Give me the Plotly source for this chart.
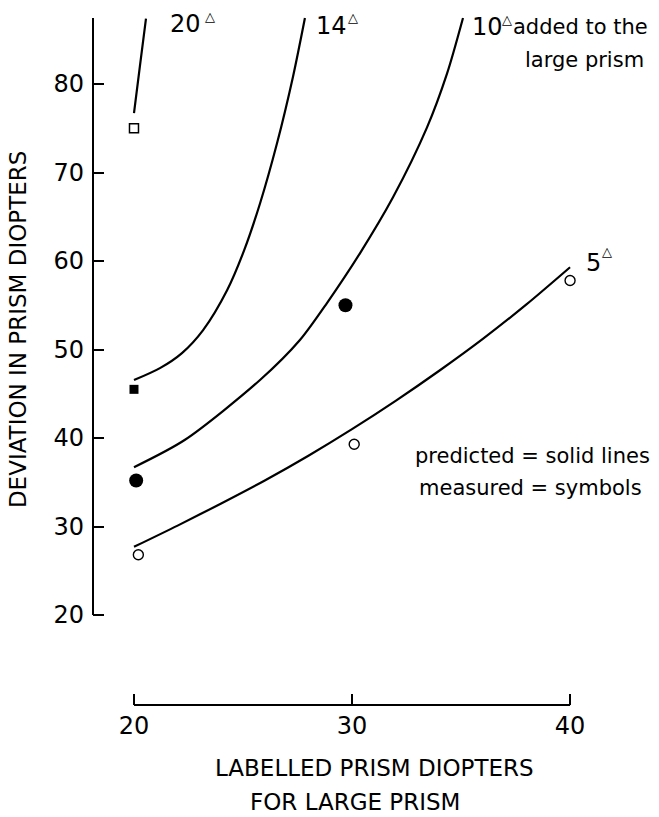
import plotly.graph_objects as go

# ---- data ----
# predicted curves (solid lines): labelled prism (x) vs deviation (y)
x_20 = [20.0, 20.27, 20.55]
y_20 = [76.7, 82.0, 87.4]

x_14 = [20.0, 21.19, 22.2, 23.17, 24.27, 25.05, 25.78, 26.56, 27.29, 27.84]
y_14 = [46.55, 47.9, 49.6, 52.2, 56.7, 61.2, 66.5, 73.3, 80.8, 87.46]

x_10 = [20.0, 22.34, 25.78, 27.61, 28.85, 30.37, 31.88, 33.44, 34.36, 35.09]
y_10 = [36.7, 39.8, 46.55, 51.07, 55.25, 60.9, 67.2, 75.1, 81.2, 87.46]

x_5 = [20.0, 22.0, 24.0, 26.0, 28.0, 30.0, 32.0, 34.0, 36.0, 38.0, 40.0]
y_5 = [27.7, 30.1, 32.6, 35.2, 38.0, 41.0, 44.2, 47.6, 51.2, 55.1, 59.3]

# measured values (symbols)
meas_20_x = [20.0]
meas_20_y = [75.0]
meas_14_x = [20.0]
meas_14_y = [45.5]
meas_10_x = [20.1, 29.7]
meas_10_y = [35.2, 55.0]
meas_5_x = [20.2, 30.1, 40.0]
meas_5_y = [26.8, 39.3, 57.8]

x_ticks = [20, 30, 40]
y_ticks = [20, 30, 40, 50, 60, 70, 80]

FONT = "DejaVu Sans"
BLACK = "#000000"

fig = go.Figure()

line_style = dict(color=BLACK, width=2.2, shape="spline", smoothing=0.8)
for xs, ys in [(x_20, y_20), (x_14, y_14), (x_10, y_10), (x_5, y_5)]:
    fig.add_trace(go.Scatter(x=xs, y=ys, mode="lines", line=line_style,
                             showlegend=False, hoverinfo="skip"))

fig.add_trace(go.Scatter(x=meas_20_x, y=meas_20_y, mode="markers",
                         marker=dict(symbol="square-open", size=9, color=BLACK,
                                     line=dict(width=1.5, color=BLACK)),
                         showlegend=False))
fig.add_trace(go.Scatter(x=meas_14_x, y=meas_14_y, mode="markers",
                         marker=dict(symbol="square", size=9, color=BLACK),
                         showlegend=False))
fig.add_trace(go.Scatter(x=meas_10_x, y=meas_10_y, mode="markers",
                         marker=dict(symbol="circle", size=14, color=BLACK),
                         showlegend=False))
fig.add_trace(go.Scatter(x=meas_5_x, y=meas_5_y, mode="markers",
                         marker=dict(symbol="circle-open", size=10, color=BLACK,
                                     line=dict(width=1.4, color=BLACK)),
                         showlegend=False))

# detached axis lines
fig.add_shape(type="line", xref="paper", yref="y", x0=0, x1=0, y0=20, y1=87.46,
              line=dict(color=BLACK, width=2))
fig.add_shape(type="line", xref="x", yref="paper", x0=20, x1=40, y0=0, y1=0,
              line=dict(color=BLACK, width=2))

ann = []
def text(x, y, s, size, xanchor="left", xref="x", yref="y"):
    ann.append(dict(x=x, y=y, xref=xref, yref=yref, text=s, showarrow=False,
                    xanchor=xanchor, yanchor="middle",
                    font=dict(family=FONT, size=size, color=BLACK)))

text(21.56, 86.78, "20", 24)
text(23.17, 87.68, "△", 13)
text(28.26, 86.6, "14", 24)
text(29.72, 87.57, "△", 13)
text(35.41, 86.5, "10", 24)
text(36.79, 87.3, "△", 13)
text(37.29, 86.44, "added to the", 21)
text(37.84, 82.7, "large prism", 21)
text(40.64, 59.77, "5", 24)
text(41.38, 61.13, "△", 13)
text(38.26, 37.97, "predicted = solid lines", 21, xanchor="center")
text(38.17, 34.35, "measured = symbols", 21, xanchor="center")

text(0.501, -0.09, "LABELLED PRISM DIOPTERS", 23, xanchor="center", xref="paper", yref="paper")
text(0.467, -0.1386, "FOR LARGE PRISM", 23, xanchor="center", xref="paper", yref="paper")
ann.append(dict(x=-0.1337, y=0.537, xref="paper", yref="paper",
                text="DEVIATION IN PRISM DIOPTERS", showarrow=False, textangle=-90,
                xanchor="center", yanchor="middle",
                font=dict(family=FONT, size=23, color=BLACK)))

fig.update_layout(
    width=659, height=817,
    margin=dict(l=93, r=5, t=5, b=112),
    paper_bgcolor="white", plot_bgcolor="white",
    annotations=ann,
    xaxis=dict(range=[18.12, 43.85], tickvals=x_ticks, ticks="inside", ticklen=11,
               tickwidth=2, tickcolor=BLACK, showline=False, showgrid=False,
               zeroline=False, tickfont=dict(family=FONT, size=24, color=BLACK),
               ticklabelstandoff=4),
    yaxis=dict(range=[9.83, 88.93], tickvals=y_ticks, ticks="inside", ticklen=11,
               tickwidth=2, tickcolor=BLACK, showline=False, showgrid=False,
               zeroline=False, tickfont=dict(family=FONT, size=24, color=BLACK),
               ticklabelstandoff=8),
)

fig.write_html("out.html")
